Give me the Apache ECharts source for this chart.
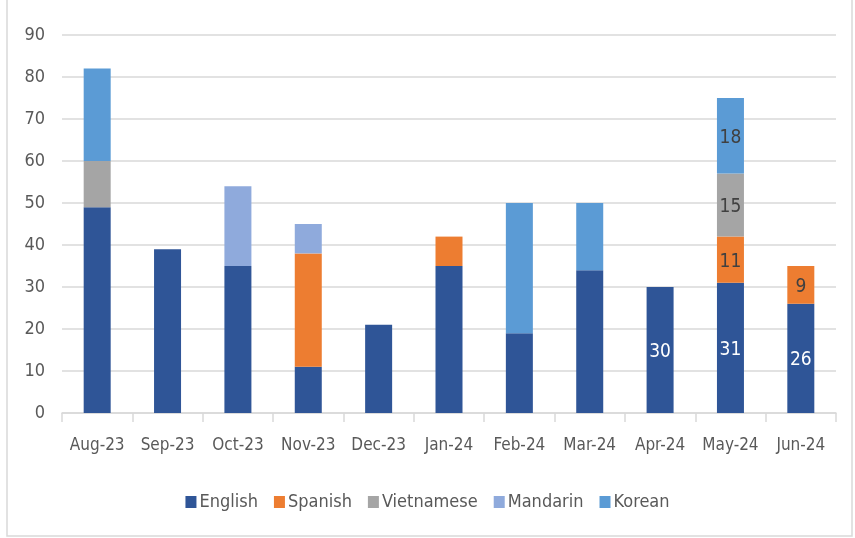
<!DOCTYPE html>
<html>
<head>
<meta charset="utf-8">
<style>
  html, body { margin: 0; padding: 0; background: #fff; }
  #chart { width: 855px; height: 538px; }
</style>
<script src="https://cdn.jsdelivr.net/npm/echarts@6/dist/echarts.min.js"></script>
</head>
<body>
<div id="chart"></div>
<script>
// 数据部分
var months = ['Aug-23', 'Sep-23', 'Oct-23', 'Nov-23', 'Dec-23', 'Jan-24', 'Feb-24', 'Mar-24', 'Apr-24', 'May-24', 'Jun-24']
var english = [49, 39, 35, 11, 21, 35, 19, 34, 30, 31, 26]
var spanish = [0, 0, 0, 27, 0, 7, 0, 0, 0, 11, 9]
var vietnamese = [11, 0, 0, 0, 0, 0, 0, 0, 0, 15, 0]
var mandarin = [0, 0, 19, 7, 0, 0, 0, 0, 0, 0, 0]
var korean = [22, 0, 0, 0, 0, 0, 31, 16, 0, 18, 0]
var yTicks = [0, 10, 20, 30, 40, 50, 60, 70, 80, 90]
// 只有这几个月显示数值
var labelledMonths = ['Apr-24', 'May-24', 'Jun-24']

var fontFamily = "'Liberation Sans Narrow', 'DejaVu Sans Condensed', sans-serif"

function makeSeries(name, data, color, labelColor) {
  return {
    name: name,
    type: 'bar',
    stack: 'total',
    barWidth: 27,
    itemStyle: { color: color },
    label: {
      show: true,
      position: 'inside',
      color: labelColor,
      fontSize: 19,
      fontFamily: fontFamily,
      offset: [0, 2],
      formatter: function (p) {
        return labelledMonths.indexOf(p.name) > -1 && p.value ? p.value : ''
      }
    },
    data: data
  }
}

var myChart = echarts.init(document.getElementById('chart'))

var option = {
  animation: false,
  textStyle: { fontFamily: fontFamily },
  // 外框
  graphic: [{
    type: 'rect',
    shape: { x: 7, y: -5, width: 845, height: 541 },
    style: { fill: 'none', stroke: '#D9D9D9', lineWidth: 1.5 },
    silent: true
  }],
  grid: {
    left: 62,
    right: 19,
    top: 35,
    bottom: 125
  },
  legend: {
    bottom: 22,
    left: 'center',
    itemWidth: 11,
    itemHeight: 12,
    itemGap: 16,
    icon: 'rect',
    textStyle: { color: '#595959', fontSize: 18, fontFamily: fontFamily, padding: [0, 0, 0, -2] },
    data: ['English', 'Spanish', 'Vietnamese', 'Mandarin', 'Korean']
  },
  xAxis: {
    type: 'category',
    data: months,
    axisLine: { lineStyle: { color: '#D9D9D9', width: 1.5 } },
    axisTick: { show: true, length: 9, lineStyle: { color: '#D9D9D9', width: 1.5 } },
    axisLabel: { color: '#595959', fontSize: 17, margin: 24, interval: 0, fontFamily: fontFamily }
  },
  yAxis: {
    type: 'value',
    min: yTicks[0],
    max: yTicks[yTicks.length - 1],
    interval: 10,
    axisLine: { show: false },
    axisTick: { show: false },
    axisLabel: { color: '#595959', fontSize: 18, margin: 17, fontFamily: fontFamily },
    splitLine: { lineStyle: { color: '#D9D9D9', width: 1.5 } }
  },
  series: [
    makeSeries('English', english, '#2F5597', '#FFFFFF'),
    makeSeries('Spanish', spanish, '#ED7D31', '#404040'),
    makeSeries('Vietnamese', vietnamese, '#A5A5A5', '#404040'),
    makeSeries('Mandarin', mandarin, '#8FAADC', '#404040'),
    makeSeries('Korean', korean, '#5B9BD5', '#404040')
  ]
}

myChart.setOption(option)
</script>
</body>
</html>
